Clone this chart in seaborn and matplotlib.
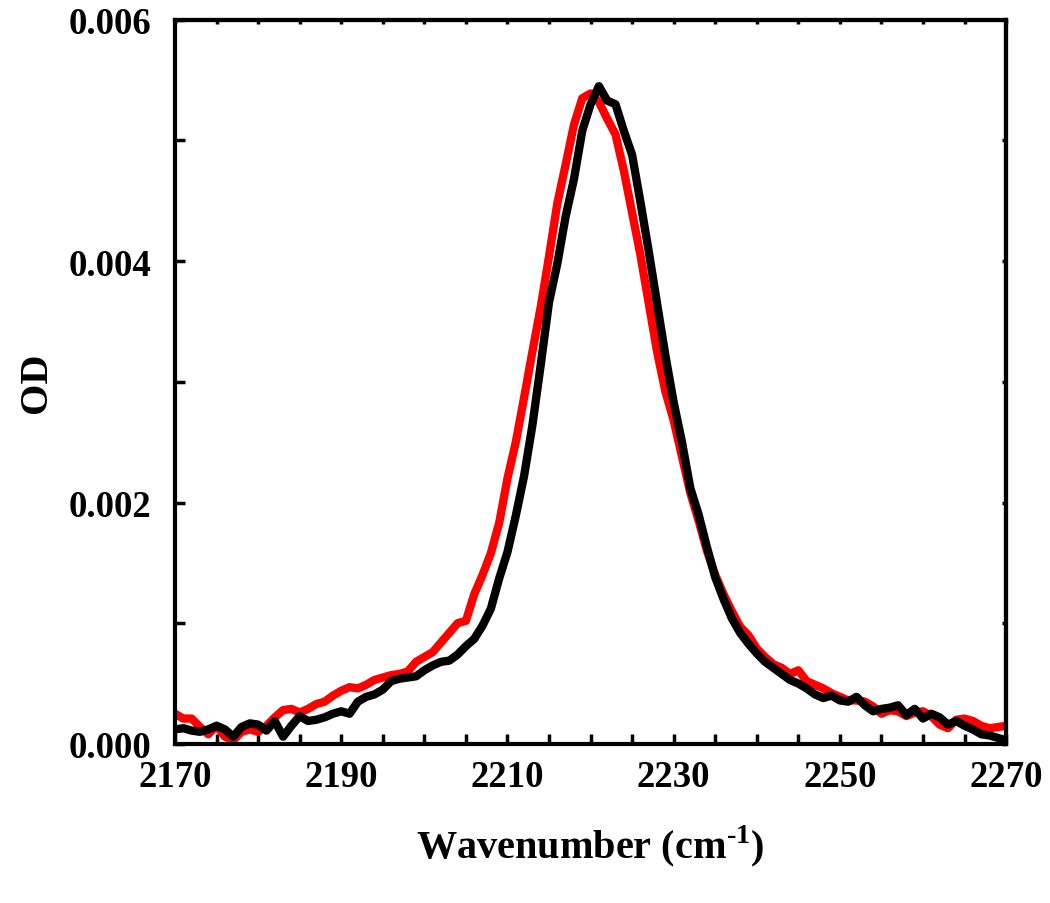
import numpy as np
import pandas as pd
import matplotlib
matplotlib.use("Agg")
import matplotlib.pyplot as plt
from matplotlib.ticker import MultipleLocator, FixedLocator
import seaborn as sns

# wavenumber grid (cm-1), one point per cm-1
wavenumber = list(range(2170, 2271))
x_ticks = [2170, 2190, 2210, 2230, 2250, 2270]
y_ticks = [0.000, 0.002, 0.004, 0.006]

# red trace, OD values
od_red = [
    0.00025, 0.00021, 0.00021, 0.00014, 0.00008, 0.00015, 0.00006, 0.00003, 0.00010, 0.00012,
    0.00010, 0.00015, 0.00022, 0.00028, 0.00029, 0.00026, 0.00029, 0.00033, 0.00035, 0.00040,
    0.00044, 0.00047, 0.00046, 0.00049, 0.00053, 0.00055, 0.00057, 0.00058, 0.00060, 0.00068,
    0.00072, 0.00076, 0.00084, 0.00092, 0.00100, 0.00102, 0.00124, 0.00140, 0.00158, 0.00183,
    0.00220, 0.00250, 0.00287, 0.00325, 0.00362, 0.00404, 0.00448, 0.00480, 0.00513, 0.00535,
    0.00539, 0.00532, 0.00518, 0.00505, 0.00475, 0.00440, 0.00405, 0.00365, 0.00325, 0.00292,
    0.00268, 0.00238, 0.00208, 0.00185, 0.00160, 0.00140, 0.00124, 0.00110, 0.00097, 0.00090,
    0.00079, 0.00072, 0.00066, 0.00063, 0.00058, 0.00061, 0.00052, 0.00049, 0.00046, 0.00042,
    0.00039, 0.00036, 0.00036, 0.00035, 0.00031, 0.00025, 0.00028, 0.00027, 0.00023, 0.00026,
    0.00027, 0.00023, 0.00016, 0.00013, 0.00020, 0.00021, 0.00019, 0.00015, 0.00013, 0.00014,
    0.00015,
]

# black trace
od_black = [
    0.00012, 0.00013, 0.00011, 0.00010, 0.00012, 0.00015, 0.00012, 0.00006, 0.00014, 0.00017,
    0.00016, 0.00011, 0.00019, 0.00006, 0.00015, 0.00023, 0.00019, 0.00020, 0.00022, 0.00025,
    0.00027, 0.00025, 0.00035, 0.00039, 0.00041, 0.00045, 0.00052, 0.00054, 0.00055, 0.00056,
    0.00061, 0.00065, 0.00068, 0.00069, 0.00074, 0.00081, 0.00087, 0.00098, 0.00112, 0.00137,
    0.00159, 0.00189, 0.00222, 0.00264, 0.00314, 0.00366, 0.00398, 0.00437, 0.00468, 0.00508,
    0.00530, 0.00545, 0.00533, 0.00530, 0.00508, 0.00488, 0.00449, 0.00408, 0.00365, 0.00322,
    0.00283, 0.00250, 0.00212, 0.00190, 0.00163, 0.00138, 0.00120, 0.00104, 0.00092, 0.00083,
    0.00075, 0.00068, 0.00063, 0.00058, 0.00053, 0.00050, 0.00046, 0.00041, 0.00038, 0.00040,
    0.00036, 0.00035, 0.00039, 0.00032, 0.00027, 0.00029, 0.00030, 0.00032, 0.00024, 0.00029,
    0.00021, 0.00025, 0.00022, 0.00016, 0.00019, 0.00015, 0.00012, 0.00008, 0.00007, 0.00005,
    0.00003,
]

sns.set_style("ticks")
plt.rcParams["font.family"] = ["Liberation Serif", "DejaVu Serif"]
plt.rcParams["font.weight"] = "bold"
plt.rcParams["text.color"] = "black"
plt.rcParams["axes.labelcolor"] = "black"
plt.rcParams["xtick.color"] = "black"
plt.rcParams["ytick.color"] = "black"
plt.rcParams["mathtext.fontset"] = "custom"
plt.rcParams["mathtext.rm"] = "Liberation Serif:bold"
plt.rcParams["mathtext.bf"] = "Liberation Serif:bold"

df = pd.DataFrame({
    "wavenumber": wavenumber * 2,
    "OD": od_red + od_black,
    "trace": ["red"] * len(od_red) + ["black"] * len(od_black),
})

fig = plt.figure(figsize=(10.5, 9.04), dpi=100)
ax = fig.add_axes([0.1667, 0.176, 0.7915, 0.801])

sns.lineplot(data=df, x="wavenumber", y="OD", hue="trace",
             palette={"red": "#ff0000", "black": "#000000"},
             linewidth=6, legend=False, ax=ax)

ax.set_xlim(2170, 2270)
ax.set_ylim(0, 0.006)
ax.xaxis.set_major_locator(FixedLocator(x_ticks))
ax.xaxis.set_minor_locator(MultipleLocator(5))
ax.yaxis.set_major_locator(FixedLocator(y_ticks))
ax.yaxis.set_minor_locator(MultipleLocator(0.001))
ax.yaxis.set_major_formatter(plt.FuncFormatter(lambda v, p: f"{v:.3f}"))

for s in ax.spines.values():
    s.set_linewidth(3)
    s.set_color("black")

ax.tick_params(axis="both", which="both", direction="in", width=2.5,
               length=7, labelsize=26.5, colors="black")
ax.tick_params(axis="x", which="both", pad=11)
ax.tick_params(axis="y", which="both", pad=17)
for lab in ax.get_xticklabels() + ax.get_yticklabels():
    lab.set_fontweight("bold")

# short ticks on top and right
top = ax.secondary_xaxis("top")
top.xaxis.set_major_locator(MultipleLocator(5))
top.tick_params(direction="in", length=3, width=2.5, labeltop=False, colors="black")
right = ax.secondary_yaxis("right")
right.yaxis.set_major_locator(MultipleLocator(0.001))
right.tick_params(direction="in", length=3, width=2.5, labelright=False, colors="black")
top.spines["top"].set_linewidth(3)
right.spines["right"].set_linewidth(3)

ax.set_xlabel(r"Wavenumber (cm$^{\text{-1}}$)", fontsize=29, fontweight="bold",
              labelpad=20, color="black")
ax.set_ylabel("OD", fontsize=29, fontweight="bold", labelpad=10, color="black")

fig.savefig("out.png", dpi=100)
